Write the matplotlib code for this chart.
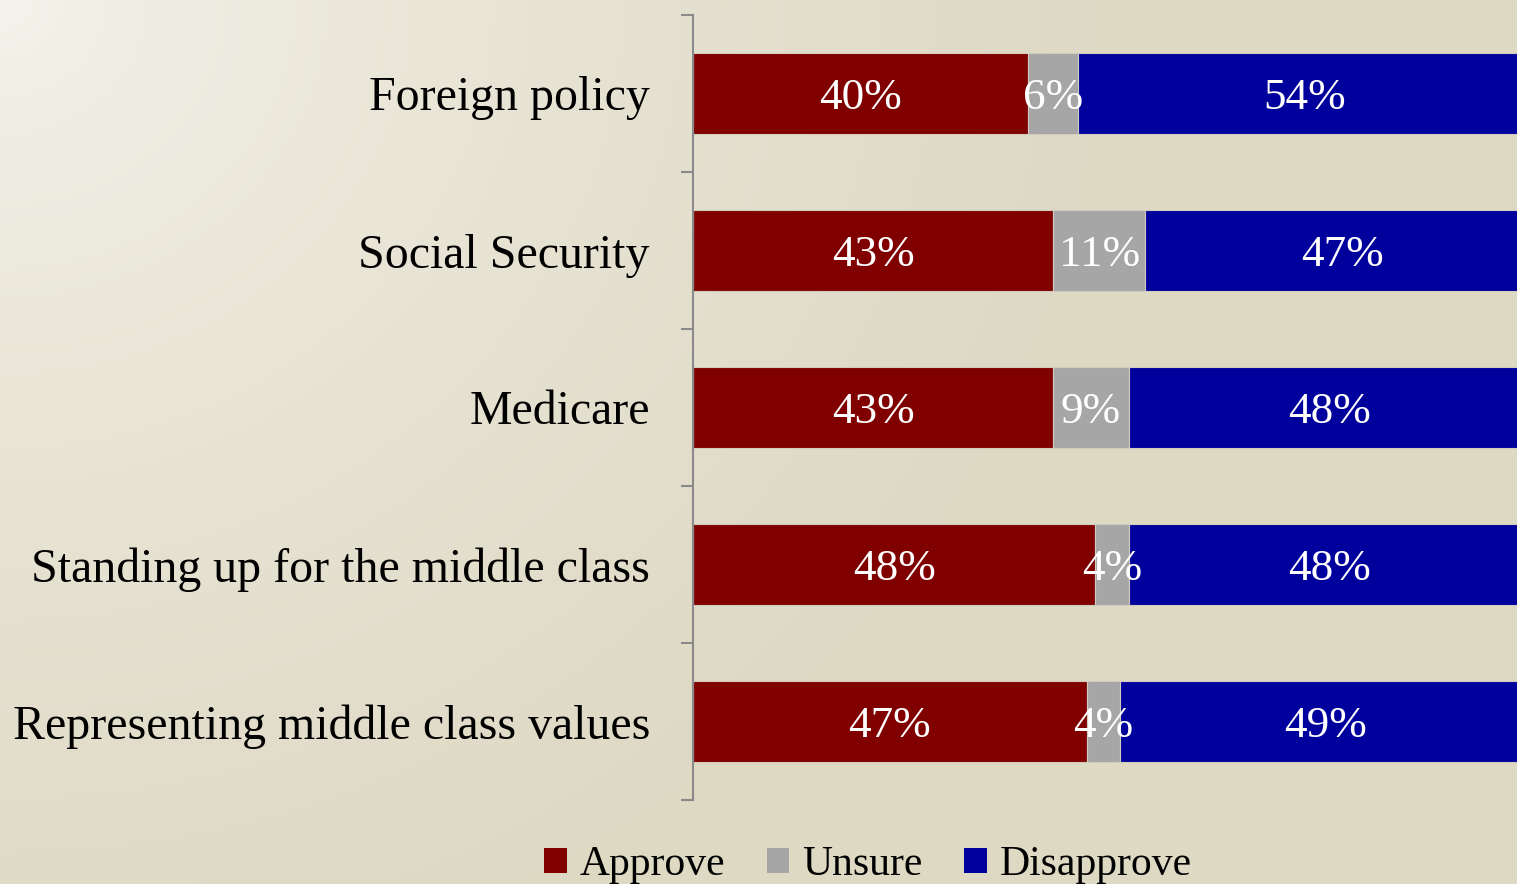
import numpy as np
import matplotlib
matplotlib.use("Agg")
import matplotlib.pyplot as plt
from matplotlib.patches import Patch
from matplotlib.ticker import FixedLocator

categories = ["Foreign policy", "Social Security", "Medicare",
              "Standing up for the middle class", "Representing middle class values"]
approve = [40, 43, 43, 48, 47]
unsure = [6, 11, 9, 4, 4]
disapprove = [54, 47, 48, 48, 49]
series_names = ["Approve", "Unsure", "Disapprove"]
series_colors = ["#800000", "#a6a6a6", "#00009c"]

plt.rcParams['font.family'] = ['Liberation Serif', 'DejaVu Serif']

W, H = 1517, 884
fig = plt.figure(figsize=(W / 100, H / 100), dpi=100)

# gradient background
bg = fig.add_axes([0, 0, 1, 1], zorder=-10)
yy, xx = np.mgrid[0:H, 0:W]
t = np.clip(np.sqrt((xx / 1100.0) ** 2 + (yy / 1000.0) ** 2), 0, 1) ** 0.75
c0 = np.array([245, 243, 236]) / 255.0
c1 = np.array([222, 217, 196]) / 255.0
img = c0[None, None, :] * (1 - t[..., None]) + c1[None, None, :] * t[..., None]
bg.imshow(img, aspect='auto', extent=[0, 1, 0, 1], origin='upper')
bg.axis('off')

left = 693 / W
bottom = 1 - 800 / H
top = 1 - 15 / H
px_per_pct = 8.375
right_px = 693 + 100 * px_per_pct
ax = fig.add_axes([left, bottom, (right_px - 693) / W, top - bottom])
ax.patch.set_alpha(0)

n = len(categories)
y = np.arange(n)
lefts = np.zeros(n)
for vals, name, col in zip([approve, unsure, disapprove], series_names, series_colors):
    ax.barh(y, vals, left=lefts, height=0.51, color=col, label=name,
            edgecolor='#d0ccc0', linewidth=0.8)
    for yi, v, l in zip(y, vals, lefts):
        ax.text(l + v / 2, yi, f"{v}%", ha='center', va='center_baseline',
                color='white', fontsize=32.5)
    lefts = lefts + np.array(vals)

ax.set_xlim(0, 100)
ax.set_ylim(n - 0.5, -0.5)
ax.set_yticks(y)
ax.set_yticklabels(categories, fontsize=34.5)
ax.yaxis.set_minor_locator(FixedLocator(np.arange(-0.5, n, 1.0)))
ax.tick_params(axis='y', which='major', length=0, pad=31)
ax.tick_params(axis='y', which='minor', length=9, width=1.5, color='#8a8a8a', direction='out')
ax.xaxis.set_visible(False)
for s in ['top', 'right', 'bottom']:
    ax.spines[s].set_visible(False)
ax.spines['left'].set_color('#8a8a8a')
ax.spines['left'].set_linewidth(1.5)

handles = [Patch(facecolor=c, edgecolor='none') for c in series_colors]
fig.legend(handles, series_names, loc='lower center', bbox_to_anchor=(0.572, -0.019),
           ncol=3, frameon=False, fontsize=30, handlelength=0.55, handleheight=0.55,
           handletextpad=0.3, columnspacing=1.0, borderaxespad=0)

fig.savefig("out.png", dpi=100)
